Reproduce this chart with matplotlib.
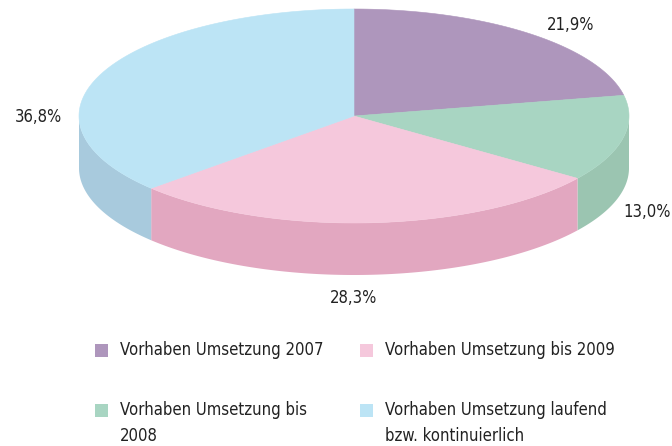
import numpy as np
import matplotlib
matplotlib.use("Agg")
import matplotlib.pyplot as plt
from matplotlib.patches import Rectangle

# Daten
kategorien = ["Vorhaben Umsetzung 2007", "Vorhaben Umsetzung bis\n2008",
              "Vorhaben Umsetzung bis 2009",
              "Vorhaben Umsetzung laufend\nbzw. kontinuierlich"]
anteile = [21.9, 13.0, 28.3, 36.8]
labels = ["21,9%", "13,0%", "28,3%", "36,8%"]
farben_oben = ["#ae96bc", "#a8d5c2", "#f5c8dc", "#bce4f5"]
farben_seite = ["#ae96bc", "#9bc5b1", "#e2a7c0", "#a8cadd"]

plt.rcParams['font.family'] = ['DejaVu Sans']
plt.rcParams['font.stretch'] = 'condensed'

fig = plt.figure(figsize=(6.72, 4.46), dpi=100)
ax = fig.add_axes([0, 0, 1, 1])
ax.set_xlim(0, 672)
ax.set_ylim(446, 0)
ax.axis('off')

cx, cy, rx, ry, tiefe = 354, 116, 275, 107, 52


def ellipse_pkt(t, dy=0):
    t = np.radians(t)
    return cx + rx * np.cos(t), cy - ry * np.sin(t) + dy


# Winkel (parametrisch), Start oben, im Uhrzeigersinn
grenzen = 90 - np.concatenate([[0], np.cumsum(anteile)]) / 100 * 360

# Seitenflaechen (nur vordere Haelfte sichtbar)
for i in range(len(anteile)):
    a1, a0 = grenzen[i], grenzen[i + 1]
    for off in (0, -360, 360):
        lo = max(a0 + off, -180)
        hi = min(a1 + off, 0)
        if hi > lo:
            t = np.linspace(lo, hi, 100)
            x1, y1 = ellipse_pkt(t)
            x2, y2 = ellipse_pkt(t[::-1], tiefe)
            ax.fill(np.r_[x1, x2], np.r_[y1, y2], color=farben_seite[i], lw=0)

# Deckflaeche
for i in range(len(anteile)):
    t = np.linspace(grenzen[i], grenzen[i + 1], 200)
    x, y = ellipse_pkt(t)
    ax.fill(np.r_[cx, x], np.r_[cy, y], color=farben_oben[i], lw=0.4,
            ec=farben_oben[i])

# Prozentwerte
label_pos = [(571, 25), (647, 212), (354, 298), (38, 117)]
for (lx, ly), txt in zip(label_pos, labels):
    ax.text(lx, ly, txt, fontsize=12, ha='center', va='center', color='#222222')

# Legende
leg_pos = [(101, 350), (101, 410), (366, 350), (366, 410)]
for (lx, ly), txt, f in zip(leg_pos, kategorien, farben_oben):
    ax.add_patch(Rectangle((lx - 6.5, ly - 6.5), 13, 13, color=f, lw=0))
    ax.text(lx + 19, ly - 9, txt, fontsize=12, ha='left', va='top',
            color='#222222', linespacing=1.55)

fig.savefig("out.png", dpi=100)
